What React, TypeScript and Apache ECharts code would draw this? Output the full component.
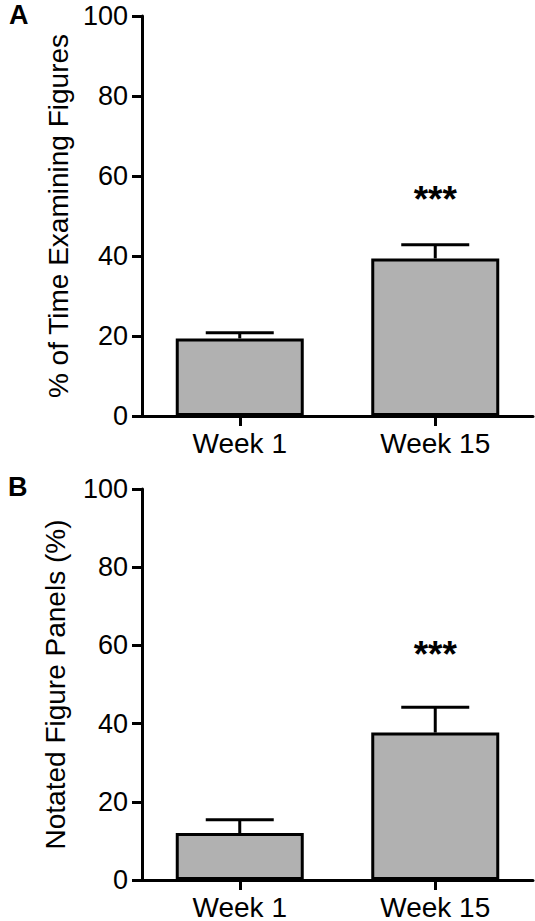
import React, { useEffect, useRef } from "react";
import * as echarts from "echarts";

const categories = ["Week 1", "Week 15"];
const timeMeans = [19.4, 39.4];
const timeErrUpper = [20.8, 42.8];
const timeSigY = [0, 54.2];
const panelMeans = [12.0, 37.7];
const panelErrUpper = [15.4, 44.2];
const panelSigY = [0, 57.6];
const sigLabels = ["", "***"];
const yMin = 0;
const yMax = 100;
const yInterval = 20;
const titleA = "% of Time Examining Figures";
const titleB = "Notated Figure Panels (%)";

const FONT = "'Liberation Sans', Arial, Helvetica, sans-serif";
const BAR_FILL = "#b1b1b1";

function makeErrSeries(idx: number, means: number[], uppers: number[], sigY: number[]) {
  return {
    type: "custom",
    xAxisIndex: idx,
    yAxisIndex: idx,
    z: 5,
    data: means.map((m, i) => [i, m, uppers[i]]),
    renderItem: (params: any, api: any) => {
      const i = params.dataIndex;
      const x = api.value(0);
      const top = api.coord([x, api.value(2)]);
      const base = api.coord([x, api.value(1)]);
      const half = 34;
      const children: any[] = [
        {
          type: "line",
          shape: { x1: base[0], y1: base[1], x2: top[0], y2: top[1] },
          style: { stroke: "#000", lineWidth: 3 },
        },
        {
          type: "line",
          shape: { x1: top[0] - half, y1: top[1], x2: top[0] + half, y2: top[1] },
          style: { stroke: "#000", lineWidth: 3 },
        },
      ];
      if (sigLabels[i]) {
        const p = api.coord([x, sigY[i]]);
        children.push({
          type: "text",
          x: p[0],
          y: p[1],
          style: {
            text: sigLabels[i],
            fill: "#000",
            font: `bold 37px ${FONT}`,
            align: "center",
            verticalAlign: "middle",
          },
        });
      }
      return { type: "group", children };
    },
  };
}

export default function App() {
  const ref = useRef<HTMLDivElement>(null);
  useEffect(() => {
    if (!ref.current) return;
    const chart = echarts.init(ref.current, null, { renderer: "svg" });
    const axisLine = { show: true, lineStyle: { color: "#000", width: 3 } };
    const axisTick = { show: true, length: 10, lineStyle: { color: "#000", width: 3 } };
    const xAxisBase = (gi: number) => ({
      type: "category",
      gridIndex: gi,
      data: categories,
      axisLine,
      axisTick: { ...axisTick, alignWithLabel: true },
      axisLabel: { color: "#000", fontSize: 28, fontFamily: FONT, margin: 13 },
    });
    const yAxisBase = (gi: number, name: string, gap: number) => ({
      type: "value",
      gridIndex: gi,
      min: yMin,
      max: yMax,
      interval: yInterval,
      axisLine,
      axisTick,
      splitLine: { show: false },
      axisLabel: { color: "#000", fontSize: 27, fontFamily: FONT, margin: 14 },
      name,
      nameLocation: "middle",
      nameGap: gap,
      nameTextStyle: { color: "#000", fontSize: 28, fontFamily: FONT },
    });
    chart.setOption({
      animation: false,
      backgroundColor: "#fff",
      grid: [
        { left: 142, top: 16, width: 391, height: 400 },
        { left: 142, top: 489, width: 391, height: 391 },
      ],
      xAxis: [xAxisBase(0), xAxisBase(1)],
      yAxis: [yAxisBase(0, titleA, 68), yAxisBase(1, titleB, 73)],
      graphic: [
        { type: "text", left: 9, top: 1, style: { text: "A", font: `bold 27px ${FONT}`, fill: "#000" } },
        { type: "text", left: 8, top: 473, style: { text: "B", font: `bold 27px ${FONT}`, fill: "#000" } },
      ],
      series: [
        {
          type: "bar",
          xAxisIndex: 0,
          yAxisIndex: 0,
          data: timeMeans,
          barWidth: 128,
          itemStyle: { color: BAR_FILL, borderColor: "#000", borderWidth: 3 },
        },
        makeErrSeries(0, timeMeans, timeErrUpper, timeSigY),
        {
          type: "bar",
          xAxisIndex: 1,
          yAxisIndex: 1,
          data: panelMeans,
          barWidth: 128,
          itemStyle: { color: BAR_FILL, borderColor: "#000", borderWidth: 3 },
        },
        makeErrSeries(1, panelMeans, panelErrUpper, panelSigY),
      ],
    });
    return () => chart.dispose();
  }, []);
  return (
    <div
      ref={ref}
      style={{ position: "fixed", left: 0, top: 0, width: 535, height: 921, background: "#fff" }}
    />
  );
}
